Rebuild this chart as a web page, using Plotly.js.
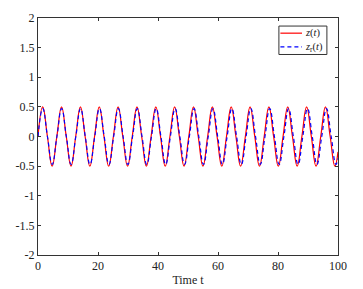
<!DOCTYPE html>
<html><head><meta charset="utf-8">
<script src="https://cdn.plot.ly/plotly-3.0.1.min.js"></script>
<style>html,body{margin:0;padding:0;background:#fff;}#chart{width:363px;height:289px;}</style>
</head><body><div id="chart"></div>
<script>
// z(t): values read at quarter-period points (peaks, troughs, zero crossings)
const tZ = [0,1.57,3.14,4.71,6.28,7.85,9.42,11.00,12.57,14.14,15.71,17.28,18.85,20.42,21.99,23.56,25.13,26.70,28.27,29.85,31.42,32.99,34.56,36.13,37.70,39.27,40.84,42.41,43.98,45.55,47.12,48.69,50.27,51.84,53.41,54.98,56.55,58.12,59.69,61.26,62.83,64.40,65.97,67.54,69.12,70.69,72.26,73.83,75.40,76.97,78.54,80.11,81.68,83.25,84.82,86.39,87.96,89.54,91.11,92.68,94.25,95.82,97.39,98.96,100];
const zVals = [0,0.5,0,-0.5,0,0.5,0,-0.5,0,0.5,0,-0.5,0,0.5,0,-0.5,0,0.5,0,-0.5,0,0.5,0,-0.5,0,0.5,0,-0.5,0,0.5,0,-0.5,0,0.5,0,-0.5,0,0.5,0,-0.5,0,0.5,0,-0.5,0,0.5,0,-0.5,0,0.5,0,-0.5,0,0.5,0,-0.5,0,0.5,0,-0.5,0,0.5,0,-0.5,-0.26];
// z_r(t): slightly smaller, slowly lagging
const tZr = [0,1.58,3.15,4.73,6.30,7.88,9.45,11.04,12.61,14.19,15.76,17.34,18.92,20.49,22.07,23.64,25.22,26.79,28.37,29.95,31.53,33.11,34.68,36.26,37.83,39.41,40.98,42.56,44.13,45.71,47.28,48.86,50.45,52.02,53.60,55.17,56.75,58.32,59.90,61.47,63.05,64.63,66.20,67.78,69.36,70.94,72.51,74.09,75.66,77.24,78.81,80.39,81.97,83.54,85.12,86.69,88.27,89.85,91.43,93.00,94.58,96.16,97.73,99.31,100];
const zrVals = [0,0.47,0,-0.47,0,0.47,0,-0.47,0,0.47,0,-0.47,0,0.47,0,-0.47,0,0.47,0,-0.47,0,0.47,0,-0.47,0,0.47,0,-0.47,0,0.47,0,-0.47,0,0.47,0,-0.47,0,0.47,0,-0.47,0,0.47,0,-0.47,0,0.47,0,-0.47,0,0.47,0,-0.47,0,0.47,0,-0.47,0,0.47,0,-0.47,0,0.47,0,-0.47,-0.37];
const xTicks = [0,20,40,60,80,100];
const yTicks = [-2,-1.5,-1,-0.5,0,0.5,1,1.5,2];
const yTickText = ['-2','-1.5','-1','-0.5','0','0.5','1','1.5','2'];
const seriesNames = ['<i>z</i>(<i>t</i>)', '<i>z</i><sub>r</sub>(<i>t</i>)'];
const seriesColors = ['#ff0000', '#0000ff'];

const FONT = 'Times New Roman, Liberation Serif, serif';
const traces = [
  {x:tZ, y:zVals, type:'scatter', mode:'lines', name:seriesNames[0],
   line:{color:seriesColors[0], width:1.2, shape:'spline', smoothing:1.3}},
  {x:tZr, y:zrVals, type:'scatter', mode:'lines', name:seriesNames[1],
   line:{color:seriesColors[1], width:1.2, dash:'4px,3px', shape:'spline', smoothing:1.3}}
];
const axisCommon = {showgrid:false, zeroline:false, showline:true, linecolor:'#333', linewidth:1,
  mirror:'ticks', ticks:'inside', ticklen:3, tickcolor:'#333',
  tickfont:{family:FONT, size:12, color:'#222'}};

// hand-built compact legend box (MATLAB style)
const legX0 = 0.803, legX1 = 0.963, legY0 = 0.846, legY1 = 0.966;
const rowY = [0.936, 0.878];
const shapes = [{type:'rect', xref:'paper', yref:'paper', x0:legX0, x1:legX1, y0:legY0, y1:legY1,
  line:{color:'#333', width:1}, fillcolor:'#fff', layer:'above'}];
seriesNames.forEach((n,i) => {
  shapes.push({type:'line', xref:'paper', yref:'paper', x0:0.808, x1:0.88, y0:rowY[i], y1:rowY[i],
    line:{color:seriesColors[i], width:1.2, dash: i===1 ? '4px,3px' : 'solid'}, layer:'above'});
});
const annotations = [{xref:'paper', yref:'paper', x:0.886, y:(rowY[0]+rowY[1])/2, xanchor:'left', yanchor:'middle',
  align:'left', text:seriesNames.join('<br>'), showarrow:false, borderpad:0,
  font:{family:FONT, size:10.5, color:'#222'}}];

const layout = {
  width:363, height:289, margin:{l:38, r:25, t:18, b:34},
  paper_bgcolor:'#fff', plot_bgcolor:'#fff', showlegend:false,
  font:{family:FONT, size:12, color:'#222'},
  xaxis:Object.assign({}, axisCommon, {range:[0,100], tickvals:xTicks, ticktext:xTicks.map(String),
    title:{text:'Time t', standoff:3, font:{family:FONT, size:12, color:'#222'}}}),
  yaxis:Object.assign({}, axisCommon, {range:[-2,2], tickvals:yTicks, ticktext:yTickText}),
  shapes:shapes, annotations:annotations
};
Plotly.newPlot('chart', traces, layout, {staticPlot:true, displayModeBar:false});
</script></body></html>
